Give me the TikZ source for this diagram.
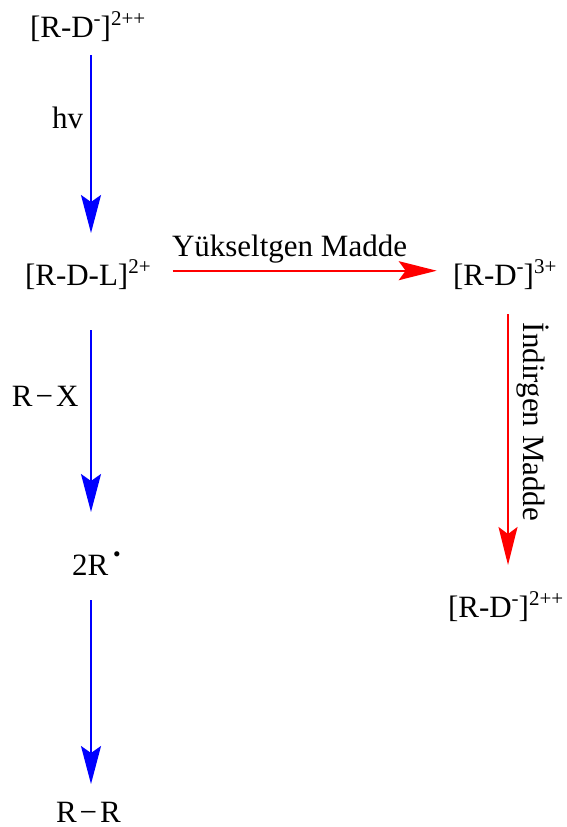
\documentclass[tikz,border=0pt]{standalone}
\usepackage{fontspec}
\setmainfont{Liberation Serif}
\usetikzlibrary{arrows.meta}
\definecolor{bblue}{RGB}{0,0,255}
\definecolor{rred}{RGB}{255,0,0}
\newcommand{\hsup}[1]{\raisebox{0.37em}{\fontsize{21}{21}\selectfont #1}}
\tikzset{
  lbl/.style={inner sep=0pt, outer sep=0pt, font=\fontsize{31}{37}\selectfont, anchor=base west},
  bluearr/.style={draw=bblue, line width=2pt, -{Stealth[length=38pt,width=20pt,inset=7pt,fill=bblue]}},
  redarr/.style={draw=rred, line width=2pt, -{Stealth[length=38pt,width=19pt,inset=7pt,fill=rred]}},
}
\begin{document}
\begin{tikzpicture}[x=1pt,y=-1pt]
\useasboundingbox (0,0) rectangle (566,827);
\node[lbl] (top) at (30,37) {[R-D\hsup{-}]\hsup{2++}};
\node[lbl] (hv) at (52,128) {hv};
\node[lbl] (rdl) at (25,285) {[R-D-L]\hsup{2+}};
\node[lbl] (yuk) at (172,256) {Yükseltgen Madde};
\node[lbl] (rd3) at (453,285) {[R-D\hsup{-}]\hsup{3+}};
\node[lbl, anchor=center, rotate=-90] (ind) at (533,422) {İndirgen Madde};
\node[lbl] (rd2) at (448,617) {[R-D\hsup{-}]\hsup{2++}};
\node[lbl] (rx) at (12,406) {R\hspace{3pt}−\hspace{3pt}X};
\node[lbl] (tr) at (72,575) {2R\hspace{5pt}\raisebox{0.45em}{\scalebox{0.7}{•}}};
\node[lbl] (rr) at (56,822) {R\hspace{3pt}−\hspace{3pt}R};
\coordinate (a1s) at (91,55);  \coordinate (a1e) at (91,233);
\coordinate (a2s) at (91,330); \coordinate (a2e) at (91,512);
\coordinate (a3s) at (91,600); \coordinate (a3e) at (91,784);
\coordinate (a4s) at (172.7,270.7); \coordinate (a4e) at (436.7,270.7);
\coordinate (a5s) at (508,314); \coordinate (a5e) at (508,565);
\draw[bluearr] (a1s) -- (a1e);
\draw[bluearr] (a2s) -- (a2e);
\draw[bluearr] (a3s) -- (a3e);
\draw[redarr] (a4s) -- (a4e);
\draw[redarr] (a5s) -- (a5e);
\end{tikzpicture}
\end{document}
